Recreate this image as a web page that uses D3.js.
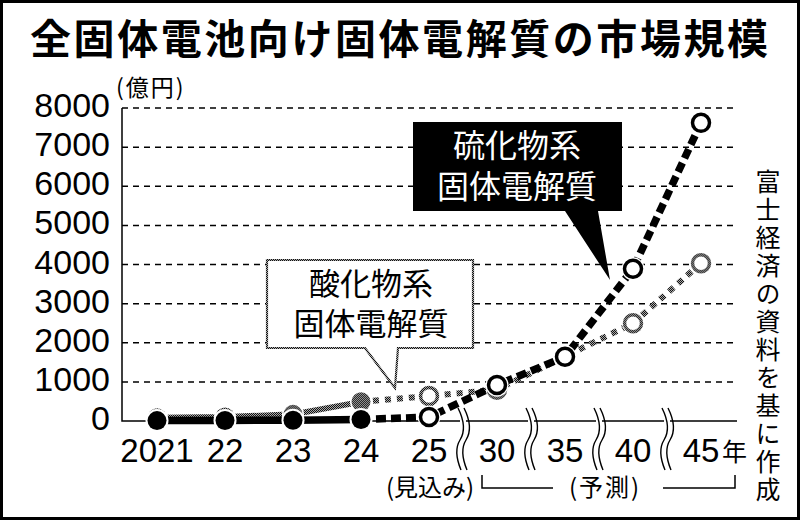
<!DOCTYPE html>
<html>
<head>
<meta charset="utf-8">
<script src="https://cdn.jsdelivr.net/npm/d3@7"></script>
<style>
  body { margin: 0; background: #fff; }
  svg { display: block; }
</style>
</head>
<body>
<div id="chart"></div>
<script>
// data (億円)
var years = ["2021", "22", "23", "24", "25", "30", "35", "40", "45"];
var sulfide = [10, 15, 20, 40, 100, 920, 1640, 3890, 7620];
var oxide = [80, 100, 170, 490, 640, 800, 1650, 2500, 4030];
var actualCount = 4; // 2021-24 are actual, 25 onwards forecast
var yTicks = [0, 1000, 2000, 3000, 4000, 5000, 6000, 7000, 8000];

var titleText = "全固体電池向け固体電解質の市場規模";
var unitText = "(億円)";
var sulfideLabel = ["硫化物系", "固体電解質"];
var oxideLabel = ["酸化物系", "固体電解質"];
var sourceText = "富士経済の資料を基に作成";

var width = 800, height = 520;
var latin = "'Liberation Sans', Arial, 'Noto Sans CJK JP', sans-serif";
var jp = "'Noto Sans CJK JP', 'Liberation Sans', sans-serif";

var svg = d3.select("#chart").append("svg")
    .attr("width", width)
    .attr("height", height);

// checker texture for the oxide series
var defs = svg.append("defs");
var pat = defs.append("pattern").attr("id", "checker")
    .attr("patternUnits", "userSpaceOnUse")
    .attr("width", 2).attr("height", 2);
pat.append("rect").attr("width", 2).attr("height", 2).attr("fill", "#aaa");
pat.append("rect").attr("x", 0).attr("y", 0).attr("width", 1).attr("height", 1).attr("fill", "#111");
pat.append("rect").attr("x", 1).attr("y", 1).attr("width", 1).attr("height", 1).attr("fill", "#111");

svg.append("rect").attr("width", width).attr("height", height).attr("fill", "#fff");

var x = d3.scalePoint().domain(years).range([157, 701]);
var y = d3.scaleLinear().domain([0, 8000]).range([421, 108]);
var plotLeft = 122, plotRight = 737;

// title
svg.append("text")
    .attr("x", 30).attr("y", 54)
    .attr("textLength", 738).attr("lengthAdjust", "spacing")
    .style("font-family", jp).style("font-weight", "bold").style("font-size", "41px")
    .text(titleText);

svg.append("text")
    .attr("x", 116).attr("y", 96)
    .style("font-family", jp).style("font-size", "23px")
    .attr("letter-spacing", "2px")
    .text(unitText);

// grid
svg.append("g").selectAll("line")
    .data(yTicks.filter(function(d){ return d > 0; }))
    .join("line")
    .attr("x1", plotLeft).attr("x2", plotRight)
    .attr("y1", function(d){ return y(d); }).attr("y2", function(d){ return y(d); })
    .attr("stroke", "#000").attr("stroke-width", 1.5)
    .attr("stroke-dasharray", "6,5");

// axis lines
svg.append("path")
    .attr("d", "M" + plotLeft + "," + y(8000) + "V" + y(0) + "H" + plotRight)
    .attr("fill", "none").attr("stroke", "#000").attr("stroke-width", 1.5);

// y tick labels
svg.append("g").selectAll("text")
    .data(yTicks)
    .join("text")
    .attr("x", 110)
    .attr("y", function(d){ return y(d) + 9; })
    .attr("text-anchor", "end")
    .style("font-family", latin).style("font-size", "34px")
    .text(function(d){ return d; });

// axis breaks
var breaks = [];
for (var i = 4; i < years.length - 1; i++) {
    breaks.push((x(years[i]) + x(years[i + 1])) / 2);
}
var bg = svg.append("g");
breaks.forEach(function(bx){
    bg.append("rect").attr("x", bx - 3).attr("y", y(0) - 3).attr("width", 6).attr("height", 6).attr("fill", "#fff");
    [-3, 3].forEach(function(off){
        var cx = bx + off;
        bg.append("path")
            .attr("d", "M" + (cx - 2) + ",408 C" + (cx + 5) + ",422 " + (cx + 5) + ",432 " + cx + ",440" +
                " S" + (cx - 4) + ",458 " + (cx + 1) + ",470")
            .attr("fill", "none").attr("stroke", "#000").attr("stroke-width", 1.4);
    });
});

// x tick labels
svg.append("g").selectAll("text")
    .data(years)
    .join("text")
    .attr("x", function(d){ return x(d); })
    .attr("y", 462)
    .attr("text-anchor", "middle")
    .style("font-family", latin).style("font-size", "33px")
    .text(function(d){ return d; });
svg.append("text")
    .attr("x", x("45") + 21).attr("y", 461)
    .style("font-family", jp).style("font-size", "25px")
    .text("年");

// 見込み / 予測 notes
svg.append("text")
    .attr("x", x("25") + 1).attr("y", 496)
    .attr("text-anchor", "middle")
    .style("font-family", jp).style("font-size", "24px")
    .text("(見込み)");
svg.append("text")
    .attr("x", 605).attr("y", 496)
    .attr("text-anchor", "middle")
    .style("font-family", jp).style("font-size", "24px")
    .attr("letter-spacing", "2px")
    .text("(予測)");
svg.append("path")
    .attr("d", "M482,475V488H553 M663,488H735V475")
    .attr("fill", "none").attr("stroke", "#000").attr("stroke-width", 1.5);

// source, vertical
svg.append("text")
    .attr("x", 768).attr("y", 169)
    .style("writing-mode", "vertical-rl")
    .style("font-family", jp).style("font-size", "25px")
    .attr("letter-spacing", "3px")
    .text(sourceText);

// callouts
var sBox = svg.append("g");
sBox.append("path")
    .attr("d", "M413,122H622V211H598L610,280L565,211H413Z")
    .attr("fill", "#000");
sBox.append("text")
    .attr("text-anchor", "middle")
    .attr("fill", "#fff")
    .style("font-family", jp).style("font-size", "32px")
    .selectAll("tspan").data(sulfideLabel).join("tspan")
    .attr("x", 517)
    .attr("y", function(d, i){ return 157 + i * 41; })
    .text(function(d){ return d; });

var oBox = svg.append("g");
oBox.append("path")
    .attr("d", "M267,260H473V348H398L395,388L365,348H267Z")
    .attr("fill", "#fff").attr("stroke", "url(#checker)").attr("stroke-width", 2.2);
oBox.append("text")
    .attr("text-anchor", "middle")
    .style("font-family", jp).style("font-size", "31px")
    .selectAll("tspan").data(oxideLabel).join("tspan")
    .attr("x", 371)
    .attr("y", function(d, i){ return 295 + i * 40; })
    .text(function(d){ return d; });

// series
var line = d3.line()
    .x(function(d){ return x(d.year); })
    .y(function(d){ return y(d.value); });

function toPoints(values) {
    return values.map(function(v, i){ return { year: years[i], value: v, actual: i < actualCount }; });
}
var oxPts = toPoints(oxide);
var suPts = toPoints(sulfide);

// oxide (drawn first, underneath)
svg.append("path").datum(oxPts.slice(0, actualCount))
    .attr("d", line).attr("fill", "none")
    .attr("stroke", "url(#checker)").attr("stroke-width", 6);
svg.append("path").datum(oxPts.slice(actualCount - 1))
    .attr("d", line).attr("fill", "none")
    .attr("stroke", "url(#checker)").attr("stroke-width", 6)
    .attr("stroke-dasharray", "6,6");
var oxDots = svg.append("g").selectAll("g").data(oxPts).join("g")
    .attr("transform", function(d){ return "translate(" + x(d.year) + "," + y(d.value) + ")"; });
oxDots.append("circle").attr("r", 11).attr("fill", "#fff");
oxDots.append("circle")
    .attr("r", function(d){ return d.actual ? 9.5 : 8.5; })
    .attr("fill", function(d){ return d.actual ? "url(#checker)" : "#fff"; })
    .attr("stroke", function(d){ return d.actual ? "none" : "url(#checker)"; })
    .attr("stroke-width", 3.5);

// sulfide on top
svg.append("path").datum(suPts.slice(0, actualCount))
    .attr("d", line).attr("fill", "none")
    .attr("stroke", "#000").attr("stroke-width", 7.5);
svg.append("path").datum(suPts.slice(actualCount - 1))
    .attr("d", line).attr("fill", "none")
    .attr("stroke", "#000").attr("stroke-width", 7.5)
    .attr("stroke-dasharray", "10,5");
var suDots = svg.append("g").selectAll("g").data(suPts).join("g")
    .attr("transform", function(d){ return "translate(" + x(d.year) + "," + y(d.value) + ")"; });
suDots.append("circle").attr("r", 11.5).attr("fill", "#fff");
suDots.append("circle")
    .attr("r", function(d){ return d.actual ? 9.5 : 8.5; })
    .attr("fill", function(d){ return d.actual ? "#000" : "#fff"; })
    .attr("stroke", function(d){ return d.actual ? "none" : "#000"; })
    .attr("stroke-width", 3.5);

// outer frame
svg.append("rect")
    .attr("x", 1.5).attr("y", 1.5)
    .attr("width", width - 3).attr("height", height - 3)
    .attr("fill", "none").attr("stroke", "#000").attr("stroke-width", 3);
</script>
</body>
</html>
